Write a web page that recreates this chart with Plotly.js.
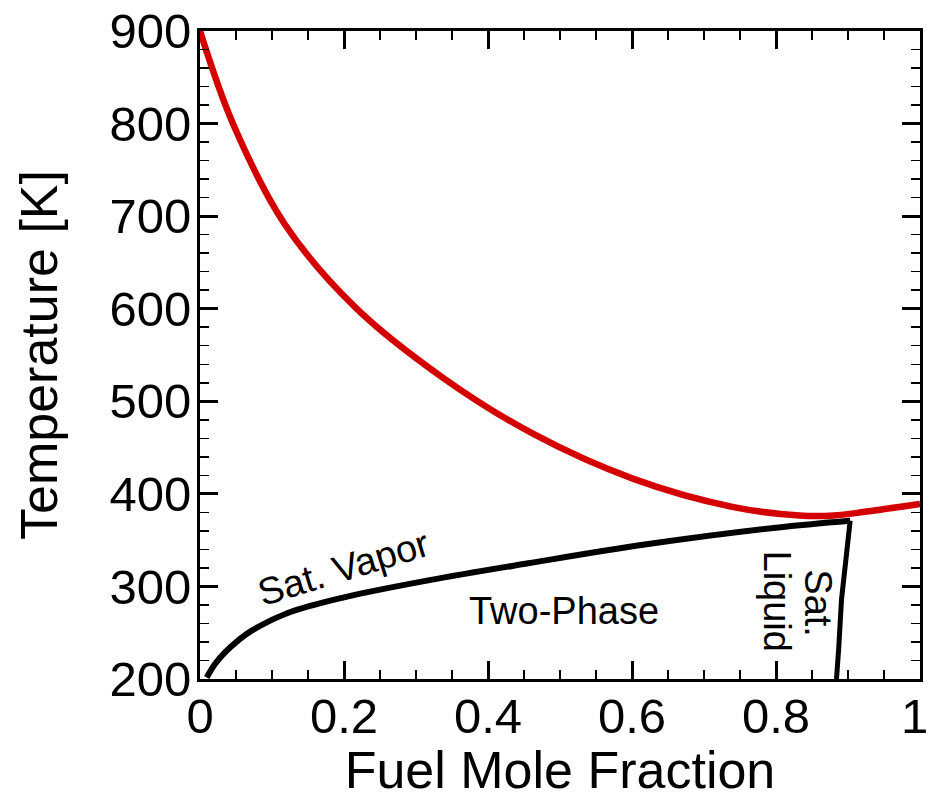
<!DOCTYPE html>
<html>
<head>
<meta charset="utf-8">
<script src="https://cdn.plot.ly/plotly-3.0.1.min.js"></script>
<style>html,body{margin:0;padding:0;background:#fff;}#chart{width:929px;height:799px;}</style>
</head>
<body>
<div id="chart"></div>
<script>
// Mixing (adiabatic) temperature curve
const mixX = [0, 0.0463, 0.118, 0.215, 0.340, 0.463, 0.602, 0.741, 0.833, 0.880, 0.926, 1.0];
const mixT = [900, 799, 691, 602, 524, 464.7, 416.2, 385.7, 376.6, 376.6, 380.9, 389];
// Saturated vapor line
const vapX = [0.0093, 0.0208, 0.0347, 0.0532, 0.0718, 0.1227, 0.2014, 0.317, 0.456, 0.620, 0.80, 0.903];
const vapT = [201.7, 216.3, 228.8, 241.8, 252.2, 271.5, 288.4, 306.5, 325, 345.5, 363.5, 371];
// Saturated liquid line
const liqX = [0.903, 0.898, 0.891, 0.887, 0.884];
const liqT = [371, 340, 286, 232, 200];
// X tick values / labels (last label drawn separately so it stays inside the page)
const xTickVals = [0, 0.2, 0.4, 0.6, 0.8, 1.0];
const xTickText = ["0", "0.2", "0.4", "0.6", "0.8", ""];
const lastXLabel = "1";
// Region labels
const labelText = ["Sat. Vapor", "Two-Phase", "Sat.", "Liquid"];
const labelX = [0.199, 0.506, 0.858, 0.801];
const labelT = [320, 273, 282, 284];
const labelAngle = [-17, 0, 90, 90];

const FONT = "Liberation Sans, Arial, Helvetica, sans-serif";

const traces = [
  {x: mixX, y: mixT, mode: "lines", line: {color: "#d40000", width: 6.5, shape: "spline", smoothing: 1}, hoverinfo: "skip"},
  {x: vapX, y: vapT, mode: "lines", line: {color: "#000000", width: 6, shape: "spline", smoothing: 1}, hoverinfo: "skip"},
  {x: liqX, y: liqT, mode: "lines", line: {color: "#000000", width: 5}, hoverinfo: "skip"}
];

const axisCommon = {
  showline: true, linewidth: 3, linecolor: "#000", mirror: "ticks",
  ticks: "inside", ticklen: 18, tickwidth: 3, tickcolor: "#000",
  showgrid: false, zeroline: false,
  tickfont: {family: FONT, size: 49, color: "#000"}
};

const annotations = labelText.map((t, i) => ({
  x: labelX[i], y: labelT[i], xref: "x", yref: "y", text: t, showarrow: false,
  textangle: labelAngle[i], font: {family: FONT, size: 38, color: "#000"},
  xanchor: "center", yanchor: "middle"
}));
annotations.push({
  x: 0.993, y: -0.0575, xref: "x", yref: "paper", text: lastXLabel, showarrow: false,
  font: {family: FONT, size: 49, color: "#000"}, xanchor: "center", yanchor: "middle"
});

const layout = {
  width: 929, height: 799,
  margin: {l: 200, r: 9, t: 31, b: 120},
  paper_bgcolor: "#fff", plot_bgcolor: "#fff",
  showlegend: false,
  font: {family: FONT, color: "#000"},
  xaxis: Object.assign({}, axisCommon, {
    range: [0, 1], tickmode: "array", tickvals: xTickVals, ticktext: xTickText, ticklabelstandoff: -8,
    minor: {ticks: "inside", ticklen: 9, tickwidth: 1.5, tickcolor: "#000", dtick: 0.05, tick0: 0, showgrid: false},
    title: {text: "Fuel Mole Fraction", font: {family: FONT, size: 52, color: "#000"}, standoff: 14}
  }),
  yaxis: Object.assign({}, axisCommon, {
    range: [200, 900], tick0: 200, dtick: 100, ticklabelstandoff: -4,
    minor: {ticks: "inside", ticklen: 9, tickwidth: 1.5, tickcolor: "#000", dtick: 20, tick0: 200, showgrid: false},
    title: {text: "Temperature [K]", font: {family: FONT, size: 52, color: "#000"}, standoff: 36}
  }),
  annotations: annotations
};

Plotly.newPlot("chart", traces, layout, {staticPlot: true, displayModeBar: false});
</script>
</body>
</html>
